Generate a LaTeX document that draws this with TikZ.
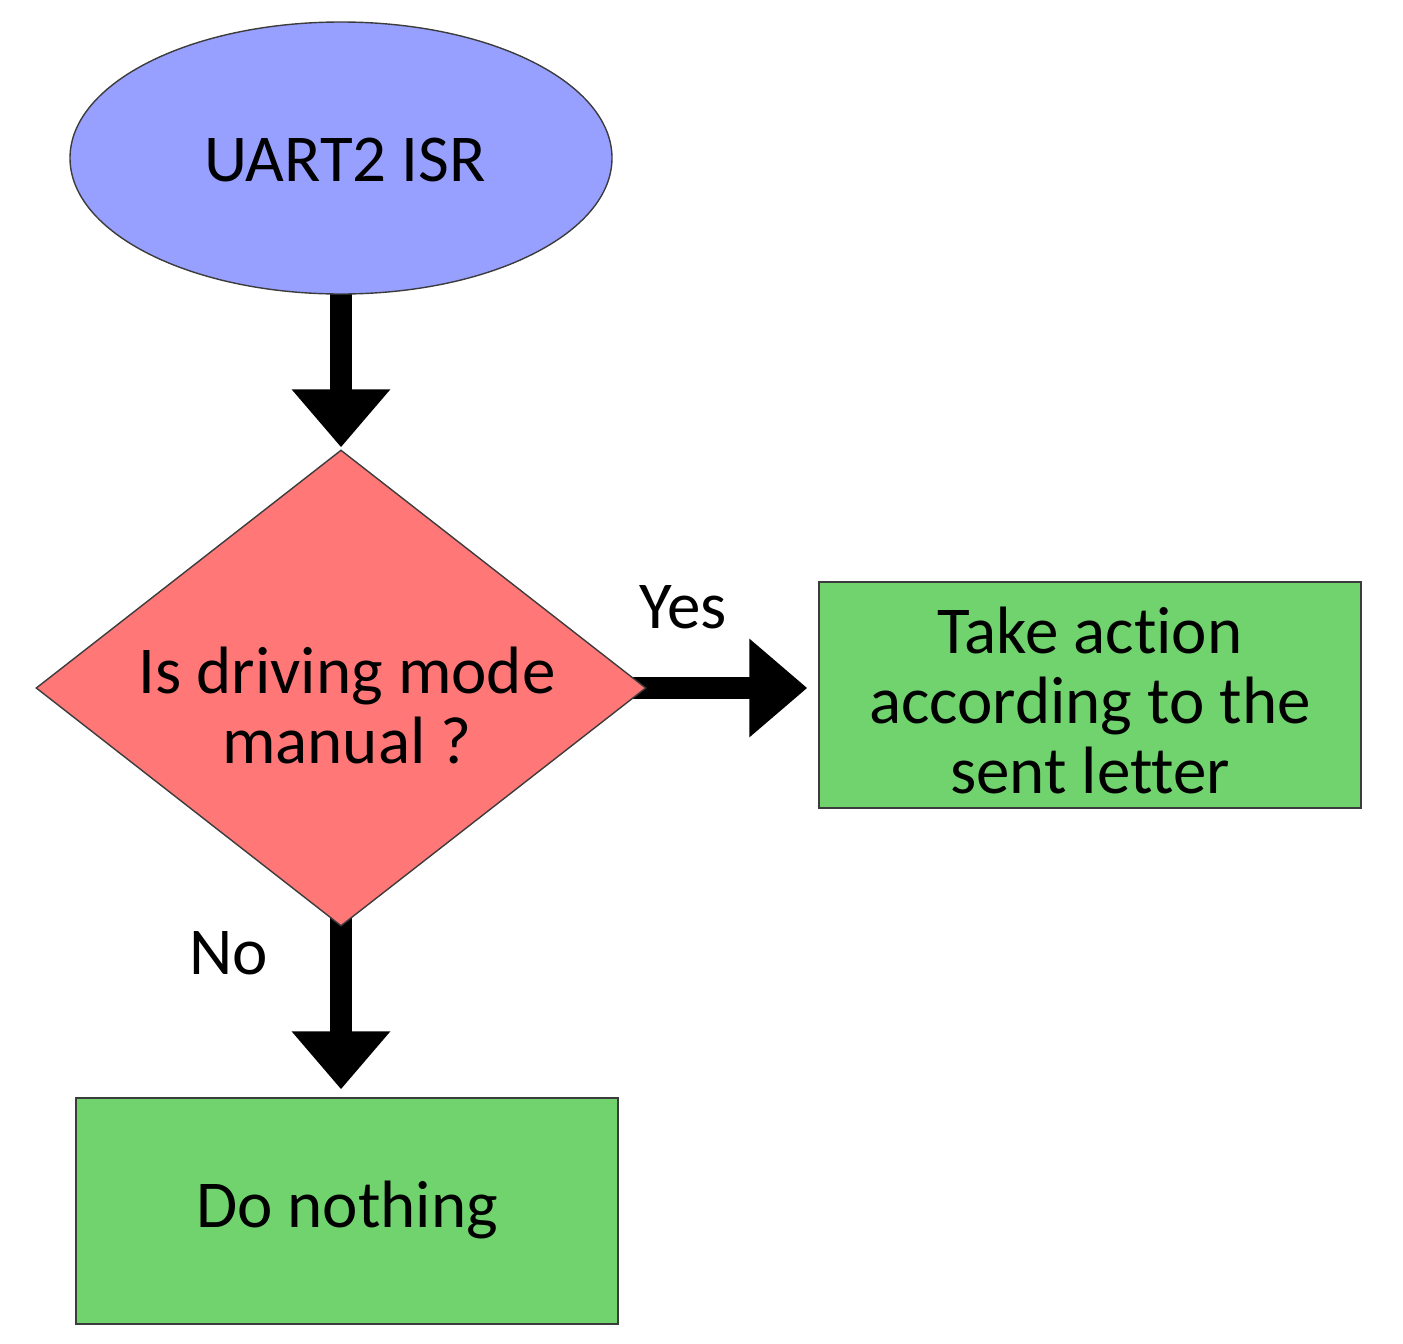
\documentclass[tikz,border=0pt]{standalone}
\usepackage{fontspec}
\setmainfont{Carlito}[Ligatures=CommonOff]
\usepackage{xcolor}
\usetikzlibrary{arrows.meta,positioning,shapes.geometric,backgrounds}
\definecolor{isrblue}{HTML}{98A0FF}
\definecolor{askred}{HTML}{FF7777}
\definecolor{boxgreen}{HTML}{70D36E}
\definecolor{edge}{HTML}{3C3C3C}
\tikzset{
  terminal/.style={draw=edge,line width=0.7pt,ellipse,fill=isrblue,inner sep=0pt,minimum width=271pt,minimum height=136pt},
  decision/.style={draw=edge,line width=0.7pt,diamond,fill=askred,inner sep=0pt,minimum width=305pt,minimum height=238pt},
  process/.style={draw=edge,line width=0.7pt,rectangle,fill=boxgreen,align=center,inner sep=0pt,minimum width=271pt,minimum height=113pt},
  txt/.style={align=center,font=\fontsize{33.5}{35}\selectfont},
  arrow/.style={-{Triangle[length=29pt,width=47.5pt]},line width=11pt,draw=black}
}
\begin{document}
\begin{tikzpicture}[x=0.5pt,y=-0.5pt]
  \useasboundingbox (0,0) rectangle (1403,1344);

  \node (isr) [terminal] at (341,158) {};
  \node (isrtxt) [txt] at (345,160) {UART2 ISR};

  \node (ask) [decision] at (341,688) {};
  \node (asktxt) [txt] at (347,705) {Is driving mode\\ manual ?};

  \node (action) [process] at (1090,695) {};
  \node (actiontxt) [txt] at (1090,700) {Take action\\ according to the\\ sent letter};

  \node (idle) [process] at (347,1211) {};
  \node (idletxt) [txt] at (347,1210) {Do nothing};

  \node (yes) [txt] at (683,607) {Yes};
  \node (no) [txt] at (229,953) {No};

  % thick arrows sit behind the shapes
  \begin{scope}[on background layer]
    \draw[arrow,shorten >=1pt] (isr.center) -- (ask.north);
    \draw[arrow,shorten >=5.5pt] (ask.center) -- (ask.center -| action.west);
    \draw[arrow,shorten >=4pt] (ask.center) -- (ask.center |- idle.north);
  \end{scope}
\end{tikzpicture}
\end{document}
